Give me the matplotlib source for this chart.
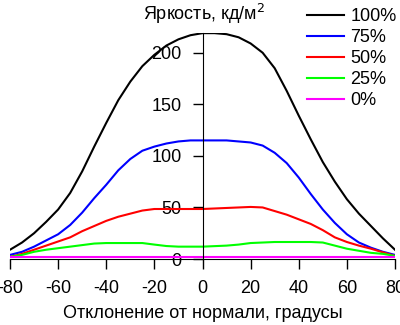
import numpy as np
import matplotlib.pyplot as plt

plt.rcParams['font.family'] = ['Liberation Sans', 'DejaVu Sans']
plt.rcParams['axes.unicode_minus'] = False

angle = [-80, -75, -70, -65, -60, -55, -50, -45, -40, -35, -30, -25, -20, -15, -10, -5, 0,
         5, 10, 15, 20, 25, 30, 35, 40, 45, 50, 55, 60, 65, 70, 75, 80]
lum100 = [9, 16, 25, 36, 48, 64, 85, 109, 132, 154, 172, 187, 198, 207, 213, 217, 219,
          219, 218, 215, 209, 200, 185, 163, 139, 116, 94, 75, 58, 44, 32, 20, 9]
lum75 = [4, 7, 12, 18, 24, 33, 45, 59, 72, 86, 97, 105, 109, 112, 114, 115, 115,
         115, 115, 114, 113, 110, 103, 93, 79, 63, 48, 35, 24, 16, 11, 7, 4]
lum50 = [2, 5, 9, 13, 17, 21, 27, 32, 37, 41, 44, 47, 48.5, 48.5, 48.5, 48.5, 48.5,
         49, 49.5, 50, 50.5, 50, 46.5, 43, 38.5, 34, 28, 21, 16.5, 13, 10, 6.5, 3]
lum25 = [2, 4, 7, 9, 10.5, 12, 13.5, 15, 15.5, 15.5, 15.5, 15.5, 14, 12.6, 12, 12, 12,
         12.5, 13, 14, 15.5, 16, 16.5, 16.5, 16.5, 16.5, 16, 13, 10, 8, 6, 5, 3]
lum0 = [2] * 33
labels = ['100%', '75%', '50%', '25%', '0%']
colors = ['black', '#0000ff', '#ff0000', '#00ff00', '#ff00ff']
xticks = [-80, -60, -40, -20, 0, 20, 40, 60, 80]
yticks = [0, 50, 100, 150, 200]

fig = plt.figure(figsize=(4, 3.25), dpi=100)
ax = fig.add_axes([0.025, 0.203, 0.9625, 0.695])

series = [lum100, lum75, lum50, lum25, lum0]
for y, c, lab in zip(series, colors, labels):
    ax.plot(angle, y, color=c, lw=1.5, label=lab)

ax.set_xlim(-80, 80)
ax.set_ylim(0, 219)
ax.spines['top'].set_visible(False)
ax.spines['right'].set_visible(False)
ax.spines['left'].set_position(('data', 0))
ax.set_xticks(xticks)
ax.set_yticks(yticks)
ax.tick_params(axis='both', labelsize=13, length=7, width=1, direction='out')
ax.tick_params(axis='x', pad=8)
ax.tick_params(axis='y', pad=8)
ax.set_xlabel('Отклонение от нормали, градусы', fontsize=13, labelpad=6)
fig.text(0.51, 0.957, 'Яркость, кд/м$^2$', fontsize=13, ha='center', va='center')

fig.legend(loc='upper left', bbox_to_anchor=(0.75, 0.997), frameon=False,
           fontsize=13, handlelength=2.05, handletextpad=0.35, labelspacing=0.22,
           borderaxespad=0)

fig.savefig('out.png', dpi=100)
